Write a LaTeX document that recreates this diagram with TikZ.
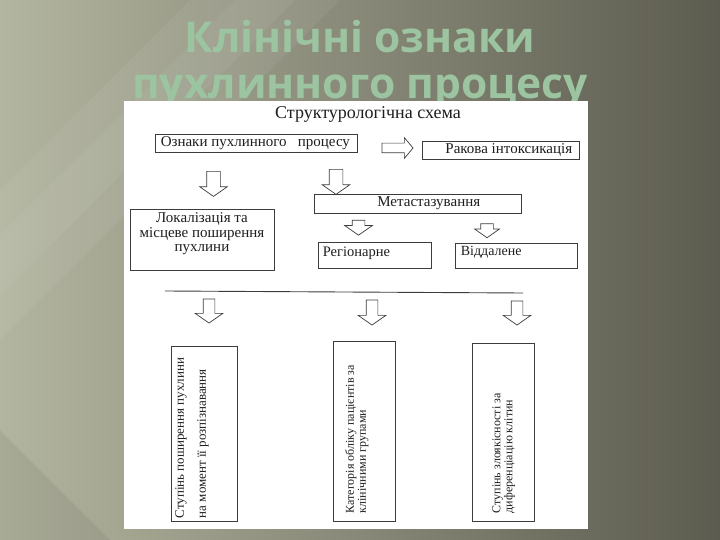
\documentclass[tikz,border=0pt]{standalone}
\usepackage{fontspec}
\setmainfont{Liberation Serif}
\newfontfamily\titlefont{Open Sans}
\usepackage{tikz}
\usetikzlibrary{shapes.arrows}
\definecolor{bgleft}{HTML}{B2B59F}
\definecolor{bgmid}{HTML}{858772}
\definecolor{bgright}{HTML}{5C5B4F}
\definecolor{titlegreen}{HTML}{9CC4A0}
\definecolor{scanline}{HTML}{3C3C3C}
\definecolor{scanink}{HTML}{1E1E1E}
\tikzset{
  titletext/.style={font=\titlefont\bfseries\fontsize{42.5}{46}\selectfont, text=titlegreen, inner sep=0pt, text depth=0pt},
  box/.style={draw=scanline, line width=0.8pt, inner sep=0pt},
  boxtext/.style={font=\fontsize{15}{14.5}\selectfont, text=scanink, inner sep=0pt},
  vtext/.style={rotate=90, anchor=north west, align=left, text=scanink, inner sep=0pt},
  darrow/.style={single arrow, draw=scanline, line width=0.7pt, rotate=-90, inner xsep=0pt, inner ysep=6.5pt,
    single arrow tip angle=110, minimum width=27pt, single arrow head extend=7pt},
}

\begin{document}
\begin{tikzpicture}[x=1pt, y=-1pt]
		%%%%% START %%%%%
		\useasboundingbox (0,0) rectangle (720,540);
		
		% slide background
		\shade[left color=bgleft, middle color=bgmid, right color=bgright] (0,0) rectangle (720,540);
		\fill[white, opacity=0.06] (190,0) -- (340,0) -- (0,340) -- (0,190) -- cycle;
		\fill[white, opacity=0.05] (235,0) -- (295,0) -- (0,295) -- (0,235) -- cycle;
		\fill[black, opacity=0.06] (0,430) -- (110,540) -- (0,540) -- cycle;
		
		% title, cut off by the sheet below
		\begin{scope}
		\clip (0,0) rectangle (720,101);
		\node[titletext, anchor=base] (title1) at (360,53) {Клінічні ознаки};
		\node[titletext, anchor=base] (title2) at (360,99) {пухлинного процесу};
		\end{scope}
		
		% scanned sheet
		\fill[white] (124,101) rectangle (588,529);
		
		\node[boxtext, font=\fontsize{18}{18}\selectfont] (head) at (368,114) {Структурологічна схема};
		
		\node[box, minimum width=202pt, minimum height=18pt] (ozn) at (256,143) {};
		\node[boxtext, anchor=west] (oznt) at ([xshift=6pt]ozn.west) {Ознаки пухлинного\ \ \ процесу};
		
		\node[darrow, rotate=90, minimum height=31pt, minimum width=20pt, inner ysep=4.5pt, single arrow head extend=5.5pt, single arrow tip angle=100] (arrR) at (395.5,148) {};
		
		\node[box, minimum width=157pt, minimum height=18pt] (rak) at (500.5,150) {};
		\node[boxtext, anchor=east] (rakt) at ([xshift=-7pt]rak.east) {Ракова інтоксикація};
		
		\node[darrow, minimum height=25pt] (arrA) at (213.5,181.5) {};
		\node[darrow, minimum height=25pt] (arrB) at (336,179.5) {};
		
		\node[box, minimum width=144pt, minimum height=61pt] (lok) at (202,239.5) {};
		\node[boxtext, anchor=north, align=center] (lokt) at ([yshift=-4pt]lok.north) {Локалізація та\\місцеве поширення\\пухлини};
		
		\node[box, minimum width=207pt, minimum height=19pt] (met) at (417.5,203.5) {};
		\node[boxtext, anchor=east] (mett) at ([xshift=-41pt]met.east) {Метастазування};
		
		\node[darrow, minimum height=15pt, inner ysep=6pt, single arrow head extend=7.5pt] (arrC) at (358.5,225.5) {};
		\node[darrow, minimum height=14pt, minimum width=24pt, inner ysep=6pt, single arrow head extend=6pt] (arrD) at (487,228.5) {};
		
		\node[box, minimum width=113pt, minimum height=26pt] (reg) at (374.5,255) {};
		\node[boxtext, anchor=west, font=\fontsize{14.5}{14.5}\selectfont] (regt) at ([xshift=5pt, yshift=2pt]reg.west) {Регіонарне};
		\node[box, minimum width=122pt, minimum height=25pt] (vid) at (516,255.5) {};
		\node[boxtext, anchor=west, font=\fontsize{14}{14}\selectfont] (vidt) at ([xshift=6pt, yshift=3pt]vid.west) {Віддалене};
		
		\coordinate (rule1) at (165,291);
		\coordinate (rule2) at (523,293);
		\draw[scanline, line width=0.9pt] (rule1) -- (rule2);
		
		\node[darrow, minimum height=24pt, inner ysep=5.5pt, single arrow head extend=8pt] (arrE) at (209,309) {};
		\node[darrow, minimum height=25pt, inner ysep=5.5pt, single arrow head extend=8pt] (arrF) at (372,310.5) {};
		\node[darrow, minimum height=24pt, inner ysep=5.5pt, single arrow head extend=8pt] (arrG) at (517,311) {};
		
		\node[box, minimum width=66pt, minimum height=175pt] (st1) at (204,433.5) {};
		\node[vtext, font=\fontsize{13}{22}\selectfont] (st1t) at ([xshift=4.5pt, yshift=3pt]st1.south west) {Ступінь поширення пухлини\\на момент її розпізнавання};
		
		\node[box, minimum width=62pt, minimum height=180pt] (kat) at (364,431) {};
		\node[vtext, font=\fontsize{12}{12}\selectfont] (katt) at ([xshift=12.5pt, yshift=8pt]kat.south west) {Категорія обліку пацієнтів за\\клінічними групами};
		
		\node[box, minimum width=62pt, minimum height=178pt] (zl) at (503,432) {};
		\node[vtext, font=\fontsize{12}{12}\selectfont] (zlt) at ([xshift=20.5pt, yshift=8pt]zl.south west) {Ступінь злоякісності за\\диференціацію клітин};
		
		%%%%% END %%%%%
\end{tikzpicture}
\end{document}
